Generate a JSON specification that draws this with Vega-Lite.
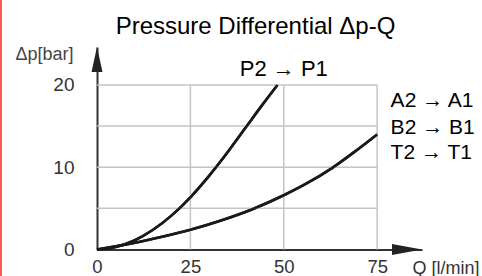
{
  "$schema": "https://vega.github.io/schema/vega-lite/v6.json",
  "width": 325,
  "height": 202.5,
  "autosize": {"type": "none"},
  "padding": {"left": 97, "top": 47, "right": 60, "bottom": 26.5},
  "background": "white",
  "config": {
    "view": {"stroke": null},
    "font": "Liberation Sans",
    "axis": {
      "grid": false, "ticks": false,
      "domain": true, "domainColor": "#333333", "domainWidth": 2,
      "labelFont": "Liberation Sans", "labelFontSize": 19, "labelColor": "#333333",
      "labelFlush": false,
      "titleFont": "Liberation Sans", "titleFontSize": 18,
      "titleFontWeight": "normal", "titleAngle": 0, "titleBaseline": "alphabetic"
    },
    "axisX": {"labelPadding": 8, "labelFontSize": 18.5, "titleColor": "#333333", "titleAlign": "left", "titleX": 315, "titleY": 23.5},
    "axisY": {"labelPadding": 23, "titleColor": "#444444", "titleAlign": "right", "titleX": -24, "titleY": 12.5}
  },
  "title": {
    "text": "Pressure Differential Δp-Q",
    "font": "Liberation Sans",
    "fontSize": 24,
    "fontWeight": "normal",
    "color": "#000000",
    "baseline": "alphabetic",
    "frame": "group",
    "anchor": "middle",
    "offset": -59,
    "dx": -4
  },
  "datasets": {
    "curves": [
      {"series": "P2 → P1", "q": 0, "dp": 0},
      {"series": "P2 → P1", "q": 5, "dp": 0.3},
      {"series": "P2 → P1", "q": 10, "dp": 1.1},
      {"series": "P2 → P1", "q": 15, "dp": 2.4},
      {"series": "P2 → P1", "q": 20, "dp": 4.15},
      {"series": "P2 → P1", "q": 25, "dp": 6.35},
      {"series": "P2 → P1", "q": 30, "dp": 8.95},
      {"series": "P2 → P1", "q": 35, "dp": 11.85},
      {"series": "P2 → P1", "q": 40, "dp": 14.95},
      {"series": "P2 → P1", "q": 44, "dp": 17.43},
      {"series": "P2 → P1", "q": 48.3, "dp": 20.0},
      {"series": "A/B/T", "q": 0, "dp": 0},
      {"series": "A/B/T", "q": 5, "dp": 0.4},
      {"series": "A/B/T", "q": 11.5, "dp": 0.95},
      {"series": "A/B/T", "q": 18, "dp": 1.6},
      {"series": "A/B/T", "q": 25, "dp": 2.4},
      {"series": "A/B/T", "q": 33, "dp": 3.5},
      {"series": "A/B/T", "q": 41.6, "dp": 4.9},
      {"series": "A/B/T", "q": 50, "dp": 6.6},
      {"series": "A/B/T", "q": 56, "dp": 8.0},
      {"series": "A/B/T", "q": 62.9, "dp": 9.9},
      {"series": "A/B/T", "q": 69, "dp": 11.9},
      {"series": "A/B/T", "q": 75, "dp": 14.0}
    ],
    "gridV": [{"q": 25}, {"q": 50}, {"q": 75}],
    "gridH": [{"dp": 5}, {"dp": 10}, {"dp": 15}, {"dp": 20}],
    "labels": [
      {"text": "P2 → P1", "q": 50, "dp": 21.1, "kind": "main"},
      {"text": "A2 → A1", "q": 78.6, "dp": 17.36, "kind": "side"},
      {"text": "B2 → B1", "q": 78.6, "dp": 14.0, "kind": "side"},
      {"text": "T2 → T1", "q": 78.6, "dp": 11.0, "kind": "side"}
    ],
    "arrowY": [{"q": 0, "dp": 24.62}],
    "arrowX": [{"q": 87, "dp": 0}]
  },
  "layer": [
    {
      "data": {"name": "curves"},
      "mark": {"type": "line", "color": "#1a1a1a", "strokeWidth": 2.6, "interpolate": "monotone"},
      "encoding": {
        "x": {
          "field": "q", "type": "quantitative",
          "scale": {"domain": [0, 87], "nice": false, "zero": true},
          "axis": {"values": [0, 25, 50, 75], "title": "Q [l/min]"}
        },
        "y": {
          "field": "dp", "type": "quantitative",
          "scale": {"domain": [0, 24.62], "nice": false, "zero": true},
          "axis": {"values": [0, 10, 20], "title": "Δp[bar]"}
        },
        "detail": {"field": "series"}
      }
    },
    {
      "data": {"values": [{"edge": "left"}]},
      "mark": {"type": "rule", "color": "#ff2020", "strokeWidth": 1.5},
      "encoding": {
        "x": {"datum": -25.7, "type": "quantitative"},
        "y": {"datum": -3.3, "type": "quantitative"},
        "y2": {"datum": 30.33}
      }
    },
    {
      "data": {"name": "gridV"},
      "mark": {"type": "rule", "color": "#c4c4c4", "strokeWidth": 1.5},
      "encoding": {
        "x": {"field": "q", "type": "quantitative"},
        "y": {"datum": 0, "type": "quantitative"},
        "y2": {"datum": 20}
      }
    },
    {
      "data": {"name": "gridH"},
      "mark": {"type": "rule", "color": "#c4c4c4", "strokeWidth": 1.5},
      "encoding": {
        "y": {"field": "dp", "type": "quantitative"},
        "x": {"datum": 0, "type": "quantitative"},
        "x2": {"datum": 75}
      }
    },
    {
      "data": {"name": "curves"},
      "mark": {"type": "line", "color": "#1a1a1a", "strokeWidth": 2.6, "interpolate": "monotone"},
      "encoding": {
        "x": {"field": "q", "type": "quantitative"},
        "y": {"field": "dp", "type": "quantitative"},
        "detail": {"field": "series"}
      }
    },
    {
      "data": {"name": "arrowY"},
      "mark": {"type": "point", "shape": "M0,0L0.44,2L-0.44,2Z", "size": 625, "filled": true, "color": "#222222", "opacity": 1},
      "encoding": {
        "x": {"field": "q", "type": "quantitative"},
        "y": {"field": "dp", "type": "quantitative"}
      }
    },
    {
      "data": {"name": "arrowX"},
      "mark": {"type": "point", "shape": "M0,0L-2,0.36L-2,-0.36Z", "size": 900, "filled": true, "color": "#222222", "opacity": 1},
      "encoding": {
        "x": {"field": "q", "type": "quantitative"},
        "y": {"field": "dp", "type": "quantitative"}
      }
    },
    {
      "data": {"name": "labels"},
      "transform": [{"filter": "datum.kind === 'main'"}],
      "mark": {"type": "text", "font": "Liberation Sans", "fontSize": 22, "color": "#000000", "align": "center", "baseline": "alphabetic"},
      "encoding": {
        "x": {"field": "q", "type": "quantitative"},
        "y": {"field": "dp", "type": "quantitative"},
        "text": {"field": "text"}
      }
    },
    {
      "data": {"name": "labels"},
      "transform": [{"filter": "datum.kind === 'side'"}],
      "mark": {"type": "text", "font": "Liberation Sans", "fontSize": 21, "color": "#000000", "align": "left", "baseline": "alphabetic"},
      "encoding": {
        "x": {"field": "q", "type": "quantitative"},
        "y": {"field": "dp", "type": "quantitative"},
        "text": {"field": "text"}
      }
    }
  ]
}
